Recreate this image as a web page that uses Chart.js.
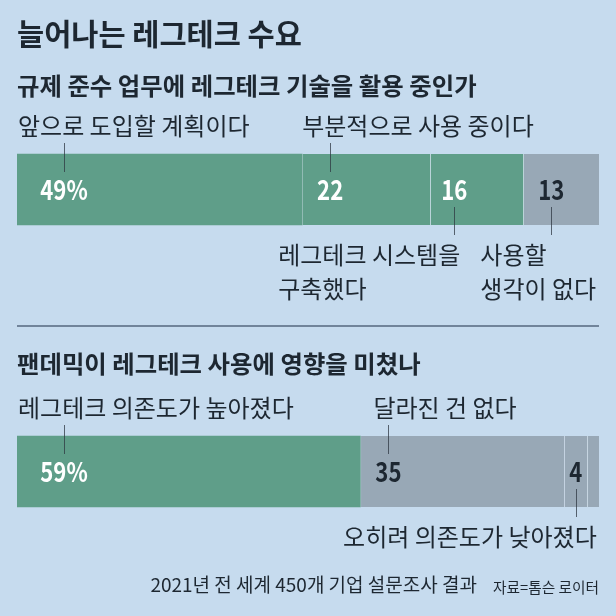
<!DOCTYPE html>
<html>
<head>
<meta charset="utf-8">
<script src="https://cdn.jsdelivr.net/npm/chart.js@4"></script>
<style>
  html, body { margin: 0; padding: 0; background: #c6dbee; }
  #wrap { width: 616px; height: 616px; position: relative; }
</style>
</head>
<body>
<div id="wrap"><canvas id="grafica" width="616" height="616"></canvas></div>
<script>
// textos
const titulo = '늘어나는 레그테크 수요';
const preguntas = ['규제 준수 업무에 레그테크 기술을 활용 중인가', '팬데믹이 레그테크 사용에 영향을 미쳤나'];
const nota = '2021년 전 세계 450개 기업 설문조사 결과';
const fuente = '자료=톰슨 로이터';

// respuestas y valores (%)
const respuestas1 = [['앞으로 도입할 계획이다'], ['부분적으로 사용 중이다'], ['레그테크 시스템을', '구축했다'], ['사용할', '생각이 없다']];
const valores1 = [49, 22, 16, 13];
const respuestas2 = [['레그테크 의존도가 높아졌다'], ['달라진 건 없다'], ['오히려 의존도가 낮아졌다'], []];
const valores2 = [59, 35, 4, 2];

const VERDE = '#5f9e89';
const GRIS = '#98a8b6';
const colores = [[VERDE, VERDE, VERDE, GRIS], [VERDE, GRIS, GRIS, GRIS]];

// donde va cada etiqueta (n = centro del numero desde el inicio del segmento)
const anotaciones = [
    [{n: 47, lado: 'arriba', dx: -46}, {n: 28, lado: 'arriba', dx: -28}, {n: 24, lado: 'abajo', rx: 6}, {n: 28, lado: 'abajo', dx: -71}],
    [{n: 47, lado: 'arriba', dx: -46}, {n: 28, lado: 'arriba', dx: -15}, {n: 'c', lado: 'abajo', rx: 21}, null]
];

const FUENTE = '"Noto Sans CJK KR", "Noto Sans", sans-serif';
const TINTA = '#1d2731';

function texto(ctx, str, x, y, font, color, align, escala) {
    ctx.save();
    ctx.font = font;
    ctx.fillStyle = color;
    ctx.textBaseline = 'middle';
    ctx.textAlign = 'left';
    const w = ctx.measureText(str).width * escala;
    let x0 = x;
    if (align === 'right') x0 = x - w;
    if (align === 'center') x0 = x - w / 2;
    ctx.translate(x0, y);
    ctx.scale(escala, 1);
    ctx.fillText(str, 0, 0);
    ctx.restore();
    return w;
}

function ancho(ctx, str, font, escala) {
    ctx.save();
    ctx.font = font;
    const w = ctx.measureText(str).width * escala;
    ctx.restore();
    return w;
}

const etiquetasPlugin = {
    id: 'etiquetas',
    afterDatasetsDraw(chart) {
        const ctx = chart.ctx;
        const todas = [respuestas1, respuestas2];
        const vals = [valores1, valores2];
        const fNum = 'bold 27px ' + FUENTE;
        const fLab = '24px ' + FUENTE;

        for (let b = 0; b < 2; b++) {
            for (let s = 0; s < 4; s++) {
                const a = anotaciones[b][s];
                if (!a) continue;
                const el = chart.getDatasetMeta(s).data[b];
                const x0 = Math.min(el.base, el.x), x1 = Math.max(el.base, el.x);
                const top = el.y - el.height / 2, bottom = el.y + el.height / 2;
                const cx = a.n === 'c' ? (x0 + x1) / 2 : x0 + a.n;

                // linea guia
                ctx.save();
                ctx.strokeStyle = 'rgba(45,55,65,0.75)';
                ctx.lineWidth = 1;
                ctx.beginPath();
                if (a.lado === 'arriba') {
                    ctx.moveTo(Math.round(cx) + 0.5, top - 11);
                    ctx.lineTo(Math.round(cx) + 0.5, top + 18);
                } else {
                    ctx.moveTo(Math.round(cx) + 0.5, bottom - 18);
                    ctx.lineTo(Math.round(cx) + 0.5, bottom + 10);
                }
                ctx.stroke();
                ctx.restore();

                // numero
                const num = s === 0 ? vals[b][s] + '%' : String(vals[b][s]);
                const colNum = colores[b][s] === VERDE ? '#ffffff' : TINTA;
                texto(ctx, num, cx, el.y, fNum, colNum, 'center', 0.82);

                // respuesta
                const lineas = todas[b][s];
                let izq;
                if (a.rx !== undefined) {
                    const w = Math.max(...lineas.map(l => ancho(ctx, l, fLab, 1)));
                    izq = cx + a.rx - w;
                } else {
                    izq = cx + a.dx;
                }
                lineas.forEach((l, i) => {
                    const y = a.lado === 'arriba' ? top - 28 : bottom + 30 + i * 34;
                    texto(ctx, l, izq, y, fLab, TINTA, 'left', 1);
                });
            }
        }
    },
    afterDraw(chart) {
        const ctx = chart.ctx;
        const area = chart.chartArea;
        texto(ctx, titulo, area.left, 34, 'bold 29.5px ' + FUENTE, TINTA, 'left', 1);
        texto(ctx, preguntas[0], area.left, 86, 'bold 24.4px ' + FUENTE, TINTA, 'left', 1);
        texto(ctx, preguntas[1], area.left, 364, 'bold 24.4px ' + FUENTE, TINTA, 'left', 1);

        // separador
        ctx.save();
        ctx.strokeStyle = '#71849a';
        ctx.lineWidth = 2;
        ctx.beginPath();
        ctx.moveTo(area.left, 326);
        ctx.lineTo(area.right, 326);
        ctx.stroke();
        ctx.restore();

        const wf = texto(ctx, fuente, area.right, 587, '14.7px ' + FUENTE, TINTA, 'right', 1);
        texto(ctx, nota, area.right - wf - 16, 585, '19px ' + FUENTE, TINTA, 'right', 1);
    }
};

const datasets = [0, 1, 2, 3].map(s => ({
    data: [valores1[s], valores2[s]],
    backgroundColor: [colores[0][s], colores[1][s]],
    borderColor: 'rgba(225,235,240,0.55)',
    borderWidth: s === 0 ? 0 : {left: 1, top: 0, right: 0, bottom: 0},
    borderSkipped: false,
    barThickness: 71
}));

new Chart(document.getElementById('grafica').getContext('2d'), {
    type: 'bar',
    data: { labels: preguntas, datasets: datasets },
    options: {
        indexAxis: 'y',
        responsive: false,
        animation: false,
        layout: { padding: { left: 17, right: 17, top: 48.5, bottom: 3.5 } },
        plugins: { legend: { display: false }, tooltip: { enabled: false } },
        scales: {
            x: { stacked: true, min: 0, max: 100, display: false },
            y: { stacked: true, display: false }
        }
    },
    plugins: [etiquetasPlugin]
});
</script>
</body>
</html>
